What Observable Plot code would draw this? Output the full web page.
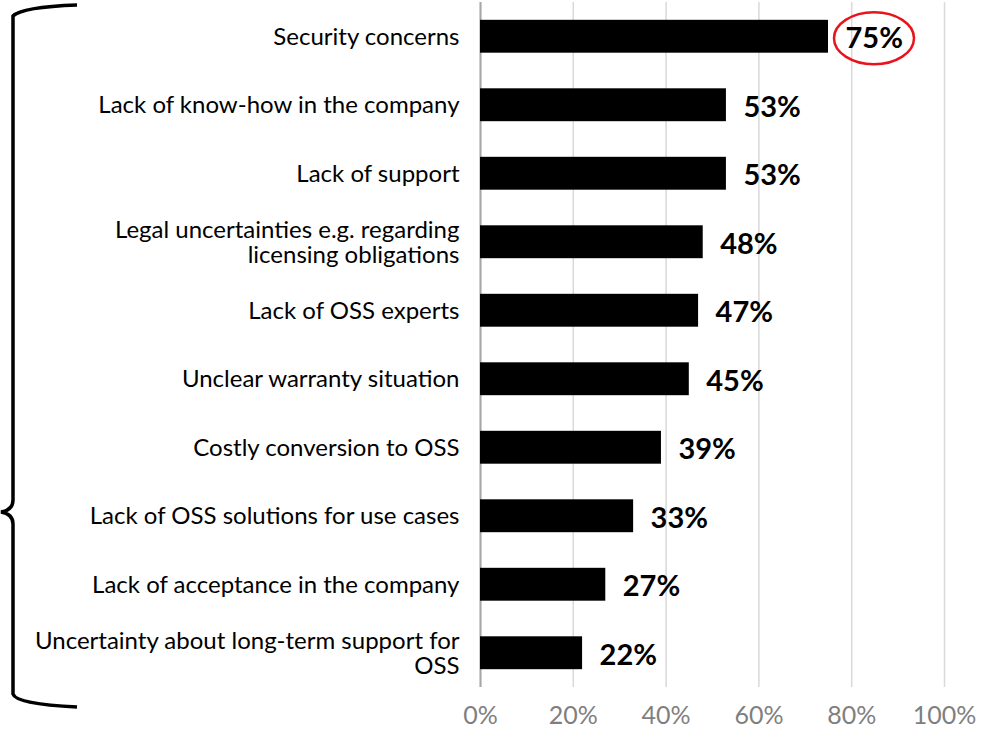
<!DOCTYPE html>
<html>
<head>
<meta charset="utf-8">
<script src="https://cdn.jsdelivr.net/npm/d3@7"></script>
<script src="https://cdn.jsdelivr.net/npm/@observablehq/plot@0.6"></script>
<style>
  html, body { margin: 0; padding: 0; background: #fff; }
  #chart { width: 992px; height: 729px; overflow: hidden; }
</style>
</head>
<body>
<div id="chart"></div>
<script>
const categories = [
  "Security concerns",
  "Lack of know-how in the company",
  "Lack of support",
  "Legal uncertainties e.g. regarding\nlicensing obligations",
  "Lack of OSS experts",
  "Unclear warranty situation",
  "Costly conversion to OSS",
  "Lack of OSS solutions for use cases",
  "Lack of acceptance in the company",
  "Uncertainty about long-term support for\nOSS"
];
const values = [75, 53, 53, 48, 47, 45, 39, 33, 27, 22];
const xTicks = [0, 20, 40, 60, 80, 100];
const highlighted = "Security concerns";

const data = categories.map((c, i) => ({cat: c, value: values[i]}));

const plot = Plot.plot({
  width: 992,
  height: 729,
  marginLeft: 480,
  marginRight: 48,
  marginTop: 2,
  marginBottom: 42,
  style: {fontFamily: "Lato", background: "#fff"},
  x: {domain: [0, 100]},
  y: {domain: categories, paddingInner: 0.52, paddingOuter: 0.26, round: false},
  marks: [
    Plot.gridX(xTicks, {stroke: "#d9d9d9", strokeOpacity: 1, strokeWidth: 1.5}),
    Plot.ruleX([0], {stroke: "#a6a6a6", strokeWidth: 2}),
    Plot.barX(data, {x: "value", y: "cat", fill: "#000"}),
    Plot.text(data, {x: "value", y: "cat", text: d => d.value + "%", textAnchor: "start", dx: 17, dy: 2,
      fontSize: 29, fontWeight: "bold", fill: "#000"}),
    Plot.axisY({tickSize: 0, tickPadding: 21, fontSize: 24, fill: "#000", lineHeight: 1.05, label: null}),
    Plot.axisX({ticks: xTicks, tickFormat: d => d + "%", tickSize: 0, tickPadding: 19, fontSize: 25, fill: "#7f7f7f", label: null})
  ]
});

document.getElementById("chart").appendChild(plot);

const svg = d3.select(plot);
const xs = plot.scale("x"), ys = plot.scale("y");
// highlight ellipse around the top value label
svg.append("ellipse")
  .attr("cx", xs.apply(values[categories.indexOf(highlighted)]) + 46)
  .attr("cy", ys.apply(highlighted) + ys.bandwidth / 2 + 2)
  .attr("rx", 40).attr("ry", 26)
  .attr("fill", "none").attr("stroke", "#e8141b").attr("stroke-width", 2.5);

// curly bracket on the left
svg.append("path")
  .attr("d", "M77,5 Q22,7 13,16 L13,500 Q13,510 1,512 Q13,514 13,524 L13,694 Q16,704 77,707")
  .attr("fill", "none").attr("stroke", "#000").attr("stroke-width", 3.5);
</script>
</body>
</html>
